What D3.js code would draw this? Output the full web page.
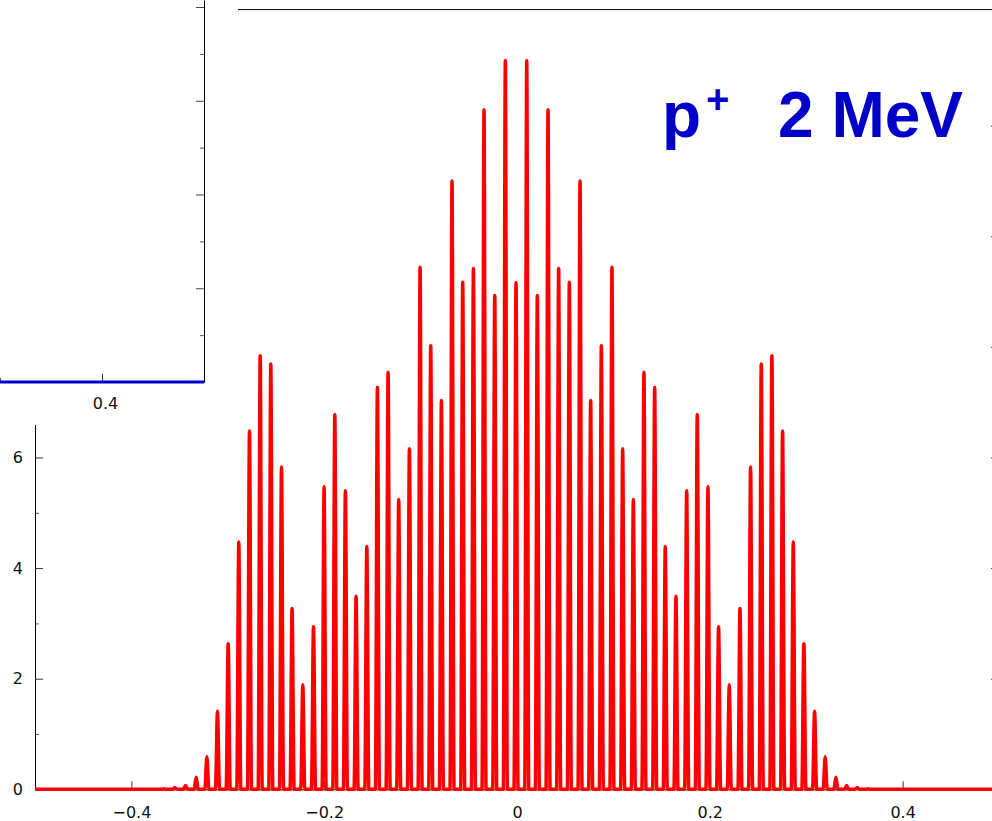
<!DOCTYPE html>
<html>
<head>
<meta charset="utf-8">
<script src="https://cdn.jsdelivr.net/npm/d3@7"></script>
<style>
  html, body { margin: 0; padding: 0; background: #fff; }
  svg { display: block; }
</style>
</head>
<body>
<svg id="chart" width="992" height="821"></svg>
<script>
// ---------------- data ----------------
// peak centres (x) of the red spectrum
const peakX = [
  -0.3660, -0.3549, -0.3439, -0.3328, -0.3217, -0.3107, -0.2996, -0.2886, -0.2775, -0.2664,
  -0.2554, -0.2443, -0.2333, -0.2222, -0.2111, -0.2001, -0.1890, -0.1780, -0.1669, -0.1558,
  -0.1448, -0.1337, -0.1227, -0.1116, -0.1005, -0.0895, -0.0784, -0.0674, -0.0563, -0.0452,
  -0.0342, -0.0231, -0.0121, -0.0010,
   0.0101,  0.0211,  0.0322,  0.0432,  0.0543,  0.0654,  0.0764,  0.0875,  0.0985,  0.1096,
   0.1207,  0.1317,  0.1428,  0.1538,  0.1649,  0.1760,  0.1870,  0.1981,  0.2091,  0.2202,
   0.2313,  0.2423,  0.2534,  0.2644,  0.2755,  0.2866,  0.2976,  0.3087,  0.3197,  0.3308,
   0.3419,  0.3529,  0.3640
];
// peak heights (y)
const peakY = [
  0.01, 0.03, 0.07, 0.22, 0.59, 1.41, 2.63, 4.47, 6.48, 7.84,
  7.69, 5.83, 3.27, 1.89, 2.94, 5.47, 6.78, 5.40, 3.49, 4.39,
  7.27, 7.54, 5.24, 6.16, 9.44, 8.02, 7.03, 11.00, 9.17, 9.42,
  12.29, 8.93, 13.18, 9.16,
  13.18, 8.93, 12.29, 9.42, 9.17, 11.00, 7.03, 8.02, 9.44, 6.16,
  5.24, 7.54, 7.27, 4.39, 3.49, 5.40, 6.78, 5.47, 2.94, 1.89,
  3.27, 5.83, 7.69, 7.84, 6.48, 4.47, 2.63, 1.41, 0.59, 0.22,
  0.07, 0.03, 0.01
];
const xDomain = [-0.5, 0.5];
const yDomain = [0, 14.1];
const xMajorTicks = [-0.4, -0.2, 0, 0.2, 0.4];
const xMinorTicks = [-0.3, -0.1, 0.1, 0.3];
const yMajorTicks = [0, 2, 4, 6];
const yMinorTicks = [1, 3, 5];
const yRightTicks = [2, 4, 6, 8, 10, 12];

// inset (partially visible previous panel)
const insetX = [0.3, 0.5];
const insetY = [0, 0];
const insetXDomain = [0.3, 0.5];
const insetYDomain = [0, 8.15];
const insetXMajor = [0.4];
const insetXMinor = [0.3];
const insetYMajor = [2, 4, 6, 8];
const insetYMinor = [1, 3, 5, 7];

const titleParticle = "p";
const titleCharge = "+";
const titleEnergy = "2 MeV";

// ---------------- layout ----------------
const svg = d3.select("#chart");
const plot = { left: 35, right: 999, top: 9.6, bottom: 789.3 };
const axisFont = "'DejaVu Sans', Verdana, sans-serif";

const x = d3.scaleLinear().domain(xDomain).range([plot.left, plot.right]);
const y = d3.scaleLinear().domain(yDomain).range([plot.bottom, plot.top]);

const g = svg.append("g");

// top frame line
g.append("line").attr("x1", plot.left).attr("x2", plot.right)
  .attr("y1", plot.top).attr("y2", plot.top).attr("stroke", "#000").attr("stroke-width", 1);

// right axis (ticks pointing inward)
const rightAxis = g.append("g").attr("transform", `translate(${plot.right},0)`)
  .call(d3.axisRight(y).tickValues(yRightTicks).tickSizeInner(-8).tickSizeOuter(0).tickFormat(""));
rightAxis.select(".domain").attr("stroke", "#000");
rightAxis.selectAll(".tick line").attr("stroke", "#444");

// bottom axis
const xMinorAxis = g.append("g").attr("transform", `translate(0,${plot.bottom})`)
  .call(d3.axisBottom(x).tickValues(xMinorTicks).tickSizeInner(-4).tickSizeOuter(0).tickFormat(""));
xMinorAxis.select(".domain").remove();
xMinorAxis.selectAll(".tick line").attr("stroke", "#555");

const xAxis = g.append("g").attr("transform", `translate(0,${plot.bottom})`)
  .call(d3.axisBottom(x).tickValues(xMajorTicks).tickSizeInner(-8).tickSizeOuter(0)
    .tickPadding(17).tickFormat(d => d === 0 ? "0" : d3.format(".1f")(d)));
xAxis.select(".domain").attr("stroke", "#000");
xAxis.selectAll(".tick line").attr("stroke", "#333");
xAxis.selectAll("text").style("font-size", "16px").attr("fill", "#111")
  .style("font-family", axisFont);

// left axis
const yMinorAxis = g.append("g").attr("transform", `translate(${plot.left},0)`)
  .call(d3.axisLeft(y).tickValues(yMinorTicks).tickSizeInner(-4).tickSizeOuter(0).tickFormat(""));
yMinorAxis.select(".domain").remove();
yMinorAxis.selectAll(".tick line").attr("stroke", "#555");

const yAxis = g.append("g").attr("transform", `translate(${plot.left},0)`)
  .call(d3.axisLeft(y).tickValues(yMajorTicks).tickSizeInner(-8).tickSizeOuter(0)
    .tickPadding(12).tickFormat(d3.format("d")));
yAxis.select(".domain").attr("stroke", "#000");
yAxis.selectAll(".tick line").attr("stroke", "#333");
yAxis.selectAll("text").style("font-size", "16px").attr("fill", "#111")
  .style("font-family", axisFont);

// red spectrum: narrow peaks on a zero baseline
const halfW = 0.0021;
const linePts = [[xDomain[0], 0]];
peakX.forEach((px, i) => {
  linePts.push([px - halfW, 0]);
  linePts.push([px, peakY[i]]);
  linePts.push([px + halfW, 0]);
});
linePts.push([xDomain[1], 0]);

const line = d3.line().x(d => x(d[0])).y(d => y(d[1])).curve(d3.curveMonotoneX);
g.append("path").datum(linePts)
  .attr("d", line)
  .attr("fill", "none")
  .attr("stroke", "#ff0000")
  .attr("stroke-width", 3.5)
  .attr("stroke-linejoin", "round");

// ---------------- inset (partially visible neighbour panel) ----------------
const inset = svg.append("g");
inset.append("rect").attr("x", 0).attr("y", 0).attr("width", 238).attr("height", 425).attr("fill", "#fff");
const ix = d3.scaleLinear().domain(insetXDomain).range([0, 204]);
const iy = d3.scaleLinear().domain(insetYDomain).range([382, 0]);

const iRightMinor = inset.append("g").attr("transform", "translate(204,0)")
  .call(d3.axisRight(iy).tickValues(insetYMinor).tickSizeInner(-4).tickSizeOuter(0).tickFormat(""));
iRightMinor.select(".domain").remove();
iRightMinor.selectAll(".tick line").attr("stroke", "#555");
const iRight = inset.append("g").attr("transform", "translate(204,0)")
  .call(d3.axisRight(iy).tickValues(insetYMajor).tickSizeInner(-8).tickSizeOuter(0).tickFormat(""));
iRight.select(".domain").attr("stroke", "#000");
iRight.selectAll(".tick line").attr("stroke", "#444");

const iBottomMinor = inset.append("g").attr("transform", "translate(0,382)")
  .call(d3.axisBottom(ix).tickValues(insetXMinor).tickSizeInner(-4).tickSizeOuter(0).tickFormat(""));
iBottomMinor.select(".domain").remove();
iBottomMinor.selectAll(".tick line").attr("stroke", "#555");
const iBottom = inset.append("g").attr("transform", "translate(0,382)")
  .call(d3.axisBottom(ix).tickValues(insetXMajor).tickSizeInner(-8).tickSizeOuter(0)
    .tickPadding(16).tickFormat(d3.format(".1f")));
iBottom.select(".domain").attr("stroke", "#000");
iBottom.selectAll(".tick line").attr("stroke", "#333");
iBottom.selectAll("text").style("font-size", "16px").attr("fill", "#111")
  .style("font-family", axisFont).attr("dx", 3);

const iline = d3.line().x((d, i) => ix(insetX[i])).y((d, i) => iy(insetY[i]));
inset.append("path").datum(insetX)
  .attr("d", iline)
  .attr("fill", "none")
  .attr("stroke", "#0000d0")
  .attr("stroke-width", 3);

// ---------------- title ----------------
const tf = "'Liberation Sans', Arial, Helvetica, sans-serif";
svg.append("text").attr("x", 662).attr("y", 137)
  .style("font-family", tf).style("font-weight", "bold").style("font-size", "64px")
  .attr("fill", "#0000c8").text(titleParticle);
svg.append("text").attr("x", 706).attr("y", 113)
  .style("font-family", tf).style("font-weight", "bold").style("font-size", "40px")
  .attr("fill", "#0000c8").text(titleCharge);
svg.append("text").attr("x", 778).attr("y", 137)
  .style("font-family", tf).style("font-weight", "bold").style("font-size", "64px")
  .attr("fill", "#0000c8").text(titleEnergy);
</script>
</body>
</html>
